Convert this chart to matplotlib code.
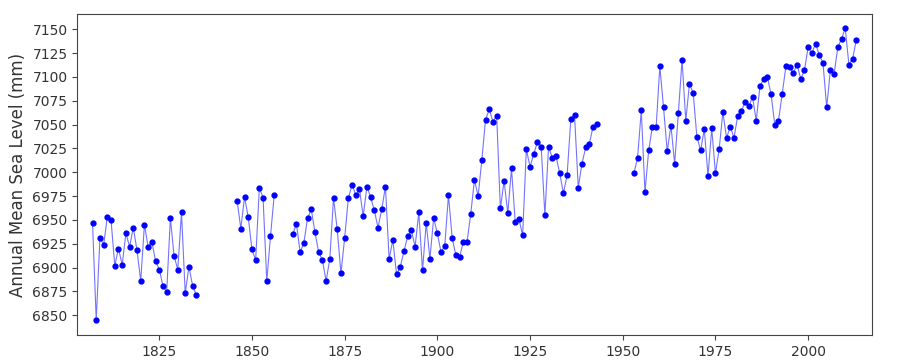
import numpy as np
import matplotlib
matplotlib.use("Agg")
import matplotlib.pyplot as plt

nan = np.nan
years = list(range(1807, 2014))

# Annual mean sea level (mm); NaN marks years without data
levels_1807_1835 = [6947, 6845, 6931, 6924, 6953, 6950, 6902, 6920, 6903, 6936,
                    6922, 6942, 6918, 6886, 6945, 6922, 6927, 6907, 6898, 6881,
                    6874, 6952, 6912, 6898, 6958, 6873, 6901, 6881, 6871]
gap_1836_1845 = [nan] * 10
levels_1846_1856 = [6970, 6941, 6974, 6953, 6919, 6908, 6984, 6973, 6886, 6933, 6976]
gap_1857_1860 = [nan] * 4
levels_1861_1943 = [6935, 6946, 6916, 6926, 6952, 6961, 6937, 6916, 6908, 6886,
                    6909, 6973, 6940, 6894, 6931, 6973, 6987, 6976, 6982, 6954,
                    6985, 6974, 6960, 6942, 6961, 6985, 6909, 6929, 6893, 6901,
                    6917, 6933, 6939, 6922, 6958, 6897, 6947, 6909, 6952, 6936,
                    6916, 6923, 6976, 6931, 6913, 6911, 6927, 6927, 6956, 6992,
                    6975, 7013, 7055, 7066, 7053, 7059, 6962, 6991, 6957, 7004,
                    6948, 6951, 6934, 7024, 7006, 7019, 7032, 7027, 6955, 7027,
                    7015, 7017, 6999, 6978, 6997, 7056, 7060, 6984, 7009, 7026,
                    7030, 7048, 7051]
gap_1944_1952 = [nan] * 9
levels_1953_2013 = [6999, 7015, 7065, 6979, 7023, 7048, 7047, 7111, 7068, 7022,
                    7049, 7009, 7062, 7118, 7054, 7093, 7083, 7037, 7023, 7045,
                    6996, 7046, 6999, 7024, 7063, 7036, 7048, 7036, 7059, 7064,
                    7074, 7069, 7079, 7054, 7090, 7098, 7100, 7082, 7050, 7054,
                    7082, 7111, 7110, 7104, 7113, 7098, 7107, 7131, 7125, 7135,
                    7123, 7115, 7068, 7107, 7103, 7131, 7140, 7151, 7113, 7119,
                    7139]

levels = (levels_1807_1835 + gap_1836_1845 + levels_1846_1856 + gap_1857_1860
          + levels_1861_1943 + gap_1944_1952 + levels_1953_2013)

fig = plt.figure(figsize=(9, 3.6), dpi=100)
ax = fig.add_axes([0.0859, 0.0694, 0.8833, 0.8909])
ax.plot(years, levels, color="blue", linewidth=0.8, alpha=0.55)
ax.plot(years, levels, linestyle="none", marker="o", markersize=3.5,
        color="blue")

ax.set_xlim(1802.9, 2017.3)
ax.set_ylim(6829.3, 7165.7)
ax.set_xticks([1825, 1850, 1875, 1900, 1925, 1950, 1975, 2000])
ax.set_yticks(list(range(6850, 7151, 25)))
ax.tick_params(labelsize=10, colors="#444444", labelcolor="#333333")
for s in ax.spines.values():
    s.set_color("#444444")
ax.set_ylabel("Annual Mean Sea Level (mm)", fontsize=12, color="#333333")

fig.savefig("out.png", dpi=100)
